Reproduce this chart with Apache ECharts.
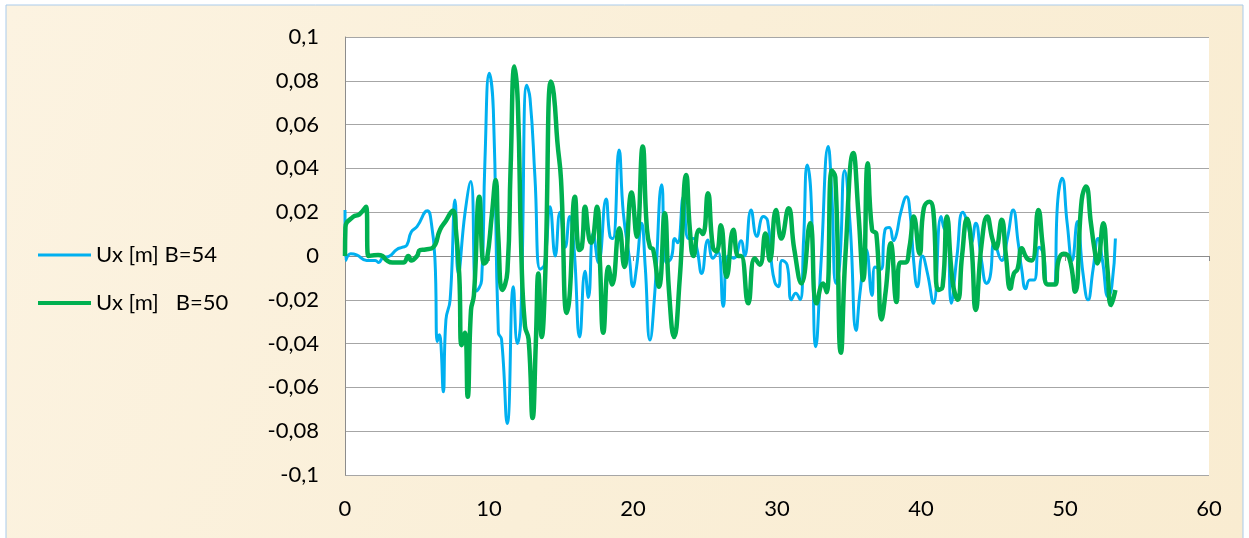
<!DOCTYPE html>
<html>
<head>
<meta charset="utf-8">
<script src="https://cdn.jsdelivr.net/npm/echarts@6/dist/echarts.min.js"></script>
<style>
html,body{margin:0;padding:0;background:#ffffff;}
#chart{width:1249px;height:538px;}
</style>
</head>
<body>
<div id="chart"></div>
<script>
// ---- data ----
const seriesNames = ['Ux [m] B=54', 'Ux [m]   B=50'];
const xTicks = [0, 10, 20, 30, 40, 50, 60];
const yTicks = [-0.1, -0.08, -0.06, -0.04, -0.02, 0, 0.02, 0.04, 0.06, 0.08, 0.1];

const tB54 = [0,0.05,0.4,0.8,1.5,2.1,2.35,2.6,3.1,3.6,4.0,4.3,4.6,5.0,5.72,6.0,6.25,6.41,6.55,6.65,6.83,7.01,7.3,7.64,7.87,8.33,8.73,9.14,9.49,9.72,10.02,10.3,10.65,10.87,11.27,11.69,11.97,12.2,12.62,12.85,13.19,13.55,13.85,14.24,14.6,14.93,15.3,15.6,15.9,16.3,16.67,16.9,17.24,17.6,18.13,18.4,18.6,19.03,19.33,19.75,20.0,20.25,20.6,20.85,21.18,21.5,22.0,22.3,22.65,22.9,23.1,23.5,23.85,24.2,24.45,24.77,25.2,25.55,25.9,26.27,26.6,27.0,27.5,27.75,28.2,28.6,29.05,29.35,29.6,29.85,30.1,30.35,30.7,31.0,31.3,31.6,31.85,32.1,32.35,32.7,33.05,33.56,33.8,34.1,34.35,34.7,35.07,35.5,35.76,36.2,36.6,36.8,37.2,37.5,37.8,38.1,38.3,38.6,39.0,39.25,39.5,39.75,40.1,40.45,40.86,41.4,41.65,41.85,42.1,42.5,42.9,43.3,43.5,43.8,44.2,44.56,44.8,45.1,45.6,46.0,46.4,46.75,47.0,47.27,47.55,47.85,48.2,48.5,48.8,49.2,49.5,49.8,50.15,50.5,50.86,51.25,51.6,51.95,52.3,52.6,53.0,53.25,53.5];
const vB54 = [0.021,-0.002,0.001,0.0005,-0.002,-0.002,-0.003,-0.001,0.0,0.003,0.004,0.005,0.011,0.0134,0.0207,0.015,-0.002,-0.039,-0.036,-0.039,-0.062,-0.029,-0.020,0.0256,-0.008,0.0195,0.034,-0.016,-0.011,0.044,0.0835,0.067,-0.035,-0.038,-0.0765,-0.014,-0.040,-0.030,0.078,0.072,0.036,-0.006,-0.004,0.0225,0.0,0.020,0.004,0.018,0.004,-0.037,-0.007,-0.019,0.0105,-0.003,0.026,0.009,0.008,0.0484,0.0195,-0.001,-0.014,-0.005,0.015,-0.005,-0.0384,-0.018,0.0325,-0.003,-0.001,0.008,0.006,0.027,0.008,0.008,0.003,-0.008,0.0073,-0.001,0.002,-0.023,0.0,-0.001,0.007,0.0,0.021,0.009,0.018,0.016,-0.002,-0.012,-0.014,-0.002,-0.004,-0.020,-0.017,-0.020,0.008,0.0416,0.029,-0.0414,-0.004,0.050,0.029,-0.0125,-0.004,0.039,0.015,-0.034,-0.017,0.003,-0.018,-0.005,-0.006,0.012,0.013,0.007,0.010,0.020,0.027,0.019,-0.003,-0.014,0.0,-0.008,-0.0216,0.018,0.012,0.018,-0.0216,0.0,0.020,0.013,0.006,0.015,-0.002,-0.0125,-0.0095,0.006,-0.002,0.008,0.021,0.006,-0.0064,-0.015,-0.011,-0.011,0.004,0.001,-0.013,-0.013,0.0256,0.0355,0.015,-0.002,0.0157,-0.008,-0.020,-0.006,0.008,-0.002,-0.0186,-0.014,0.008];

const tB50 = [0,0.03,0.58,1.0,1.46,1.62,2.3,2.6,2.9,3.3,4.05,4.4,4.6,5.0,5.2,5.6,6.13,6.6,7.0,7.48,7.7,7.94,8.1,8.33,8.52,8.75,8.95,9.33,9.65,9.85,10.2,10.46,10.65,10.93,11.28,11.5,11.77,12.0,12.25,12.5,12.75,13.03,13.25,13.43,13.66,13.9,14.3,14.5,14.75,15.0,15.4,15.6,15.97,16.27,16.45,16.67,16.95,17.1,17.5,17.7,17.94,18.3,18.55,19.05,19.4,19.9,20.26,20.67,20.95,21.18,21.4,21.8,22.2,22.5,22.85,23.25,23.7,23.95,24.2,24.6,24.85,25.2,25.55,25.8,26.1,26.5,26.97,27.3,27.5,28.0,28.45,28.8,29.2,29.5,29.93,30.3,30.8,31.2,31.7,32.3,32.75,33.2,33.45,33.8,34.05,34.44,34.75,35.3,35.65,35.99,36.3,36.6,36.9,37.26,37.55,37.9,38.3,38.55,38.9,39.2,39.5,39.9,40.2,40.6,40.85,41.2,41.5,41.8,42.2,42.55,42.85,43.2,43.5,43.8,44.2,44.6,44.95,45.2,45.6,45.9,46.2,46.45,46.7,47.0,47.35,47.7,48.15,48.45,48.8,49.3,49.55,49.9,50.3,50.7,51.16,51.46,51.8,52.05,52.25,52.66,52.95,53.2,53.5];
const vB50 = [0.0,0.013,0.018,0.019,0.0225,0.0,0.0005,0.0,-0.002,-0.003,-0.003,0.0,-0.002,0.0,0.0027,0.003,0.004,0.012,0.016,0.0207,0.012,-0.0095,-0.0407,-0.035,-0.0643,-0.0247,-0.018,0.027,-0.0034,-0.002,0.019,0.0347,0.008,-0.0155,-0.007,0.040,0.0865,0.070,0.0,-0.032,-0.038,-0.074,-0.040,-0.008,-0.037,-0.010,0.0797,0.074,0.052,0.035,-0.026,-0.018,0.027,0.0027,0.004,0.0225,0.008,0.006,0.0225,-0.002,-0.035,-0.005,-0.013,0.0127,-0.005,0.029,0.0088,0.050,0.014,0.004,0.003,-0.014,0.0195,-0.016,-0.037,-0.010,0.037,0.012,0.0,0.012,0.010,0.0287,0.004,0.002,0.014,-0.0095,0.012,0.0,0.0,-0.0216,-0.001,-0.004,0.0103,-0.002,0.021,0.008,0.0218,0.003,-0.0125,0.015,-0.0216,-0.0125,-0.0165,0.039,0.036,-0.0442,0.0,0.047,0.020,-0.011,0.0424,0.012,0.010,-0.029,-0.016,0.0058,-0.021,-0.003,-0.003,0.004,0.018,0.001,0.022,0.0248,0.021,-0.0155,-0.014,0.018,-0.012,-0.020,0.0,0.017,0.005,-0.0247,0.005,0.018,0.008,0.0035,0.0165,0.0,-0.015,-0.008,-0.006,0.0035,-0.001,-0.002,0.021,0.005,-0.013,-0.013,-0.002,0.001,-0.001,-0.0163,0.0256,0.0317,0.015,0.003,-0.0034,0.015,-0.006,-0.0224,-0.0155];

// ---- build chart ----
function zip(t, v) { return t.map((x, i) => [x, v[i]]); }
const FONT = 'Lato';
const FS = 22;
const fmtY = v => { const r = Math.round(v * 100) / 100; return r === 0 ? '0' : String(r).replace('.', ','); };

const chart = echarts.init(document.getElementById('chart'), null, { renderer: 'canvas' });
chart.setOption({
  animation: false,
  backgroundColor: '#ffffff',
  textStyle: { fontFamily: FONT },
  graphic: [{
    type: 'rect', z: -10, silent: true,
    shape: { x: 6, y: 5, width: 1237, height: 540 },
    style: {
      fill: new echarts.graphic.LinearGradient(0, 0, 1, 1, [
        { offset: 0, color: '#FCF3E1' },
        { offset: 0.5, color: '#FAEFD8' },
        { offset: 1, color: '#F9ECD1' }
      ]),
      stroke: '#A9CBEB', lineWidth: 1
    }
  }],
  grid: { left: 345, top: 37, width: 864, height: 438, show: true, backgroundColor: '#ffffff', borderWidth: 0 },
  legend: [
    { data: [seriesNames[0]], orient: 'vertical', left: 33, top: 238, icon: 'rect', itemWidth: 53, itemHeight: 3, itemGap: 0,
      textStyle: { fontFamily: FONT, fontSize: FS, color: '#000', lineHeight: 24 } },
    { data: [seriesNames[1]], orient: 'vertical', left: 33, top: 286, icon: 'rect', itemWidth: 53, itemHeight: 4, itemGap: 0,
      textStyle: { fontFamily: FONT, fontSize: FS, color: '#000', lineHeight: 24 } }
  ],
  xAxis: [
    { type: 'value', min: xTicks[0], max: xTicks[xTicks.length - 1], interval: 10, position: 'bottom',
      axisLine: { show: false, onZero: false }, axisTick: { show: false }, splitLine: { show: false },
      axisLabel: { margin: 23, fontFamily: FONT, fontSize: FS, color: '#000' } },
    { type: 'value', min: xTicks[0], max: xTicks[xTicks.length - 1], interval: 10, position: 'bottom',
      axisLine: { show: true, onZero: true, lineStyle: { color: '#8C8C8C', width: 1 } },
      axisTick: { show: true, length: 5, lineStyle: { color: '#8C8C8C' } },
      axisLabel: { show: false }, splitLine: { show: false } }
  ],
  yAxis: {
    type: 'value', min: yTicks[0], max: yTicks[yTicks.length - 1], interval: 0.02,
    axisLine: { show: true, lineStyle: { color: '#8C8C8C', width: 1 } },
    axisTick: { show: false },
    splitLine: { show: true, lineStyle: { color: '#A6A6A6', width: 1 } },
    axisLabel: { margin: 26, fontFamily: FONT, fontSize: FS, color: '#000', formatter: fmtY }
  },
  series: [
    { name: seriesNames[0], type: 'line', xAxisIndex: 0, data: zip(tB54, vB54), smooth: 0.5, showSymbol: false, symbol: 'none',
      color: '#00B0F0', lineStyle: { color: '#00B0F0', width: 3 }, z: 2 },
    { name: seriesNames[1], type: 'line', xAxisIndex: 0, data: zip(tB50, vB50), smooth: 0.5, showSymbol: false, symbol: 'none',
      color: '#00B050', lineStyle: { color: '#00B050', width: 4.5 }, z: 3 }
  ]
});
</script>
</body>
</html>
